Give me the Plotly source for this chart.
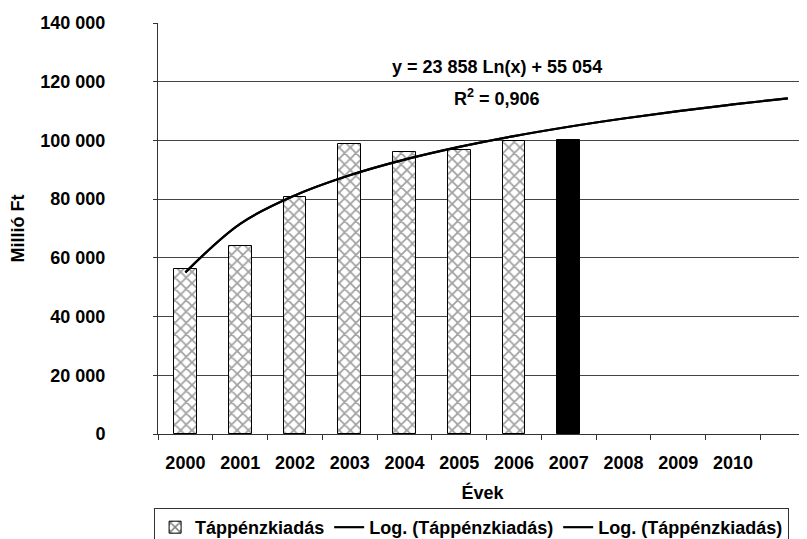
import math
import plotly.graph_objects as go

# ---- data ----
years = [2000, 2001, 2002, 2003, 2004, 2005, 2006, 2007, 2008, 2009, 2010]
year_labels = [str(y) for y in years]
spending = [56200, 64200, 80900, 98900, 96200, 96800, 99900, 100000, None, None, None]
bar_colors = ["white"] * 7 + ["black"] + ["white"] * 3
bar_patterns = ["x"] * 7 + [""] * 4

# logarithmic trend line as given by the chart's equation
trend_a = 23858
trend_b = 55054
trend_years = years + [2011]
trend_values = [trend_a * math.log(i + 1) + trend_b for i in range(len(trend_years))]

eq_text = "y = 23 858 Ln(x) + 55 054"
r2_text = "R<sup>2</sup> = 0,906"

FONT = "Liberation Sans, Arial, sans-serif"

fig = go.Figure()
fig.add_trace(go.Bar(
    x=years, y=spending, name="Táppénzkiadás", width=0.415,
    marker=dict(color=bar_colors, line=dict(color="black", width=1),
                pattern=dict(shape=bar_patterns, fgcolor="black", size=8, solidity=0.4)),
))
for _ in range(2):
    fig.add_trace(go.Scatter(
        x=trend_years, y=trend_values, mode="lines", name="Log. (Táppénzkiadás)",
        line=dict(color="black", width=2.2, shape="spline"),
    ))

fig.add_annotation(x=2005.69, y=124900, text=eq_text, showarrow=False,
                   font=dict(size=18, family=FONT, weight="bold", color="black"))
fig.add_annotation(x=2005.69, y=114600, text=r2_text, showarrow=False,
                   font=dict(size=18, family=FONT, weight="bold", color="black"))

# the page body has an 8px default margin, so the figure is drawn from (8, 8)
fig.update_layout(
    width=799, height=531,
    margin=dict(l=150.3, r=0, t=14.5, b=105, autoexpand=False),
    paper_bgcolor="white", plot_bgcolor="white",
    separators=", ",
    font=dict(family=FONT, size=18, color="black", weight="bold"),
    showlegend=True,
    legend=dict(orientation="h", x=-0.006, y=-0.18, xanchor="left", yanchor="top",
                bordercolor="#333333", borderwidth=1, font=dict(size=18),
                itemwidth=30, tracegroupgap=0, traceorder="normal"),
    bargap=0,
)
fig.update_xaxes(
    range=[1999.5, 2011.35], tickmode="array", tickvals=years, ticktext=year_labels,
    ticks="", showgrid=False, showline=True, linecolor="#333333", linewidth=1,
    minor=dict(tickmode="linear", tick0=1999.5, dtick=1, ticks="outside", ticklen=5,
               tickcolor="#333333", showgrid=False),
    ticklabelstandoff=12, automargin=False,
    title=dict(text="Évek", standoff=14, font=dict(size=18)),
    zeroline=False,
)
fig.update_yaxes(
    range=[0, 140000], dtick=20000, tickformat=",d",
    showgrid=True, gridcolor="#444444", gridwidth=1,
    showline=True, linecolor="#333333", linewidth=1, mirror=False,
    ticks="outside", ticklen=4, tickcolor="#333333",
    ticklabelstandoff=44, automargin=False,
    title=dict(text="Millió Ft", standoff=12, font=dict(size=18)),
    zeroline=False,
)

fig.write_html("out.html")
